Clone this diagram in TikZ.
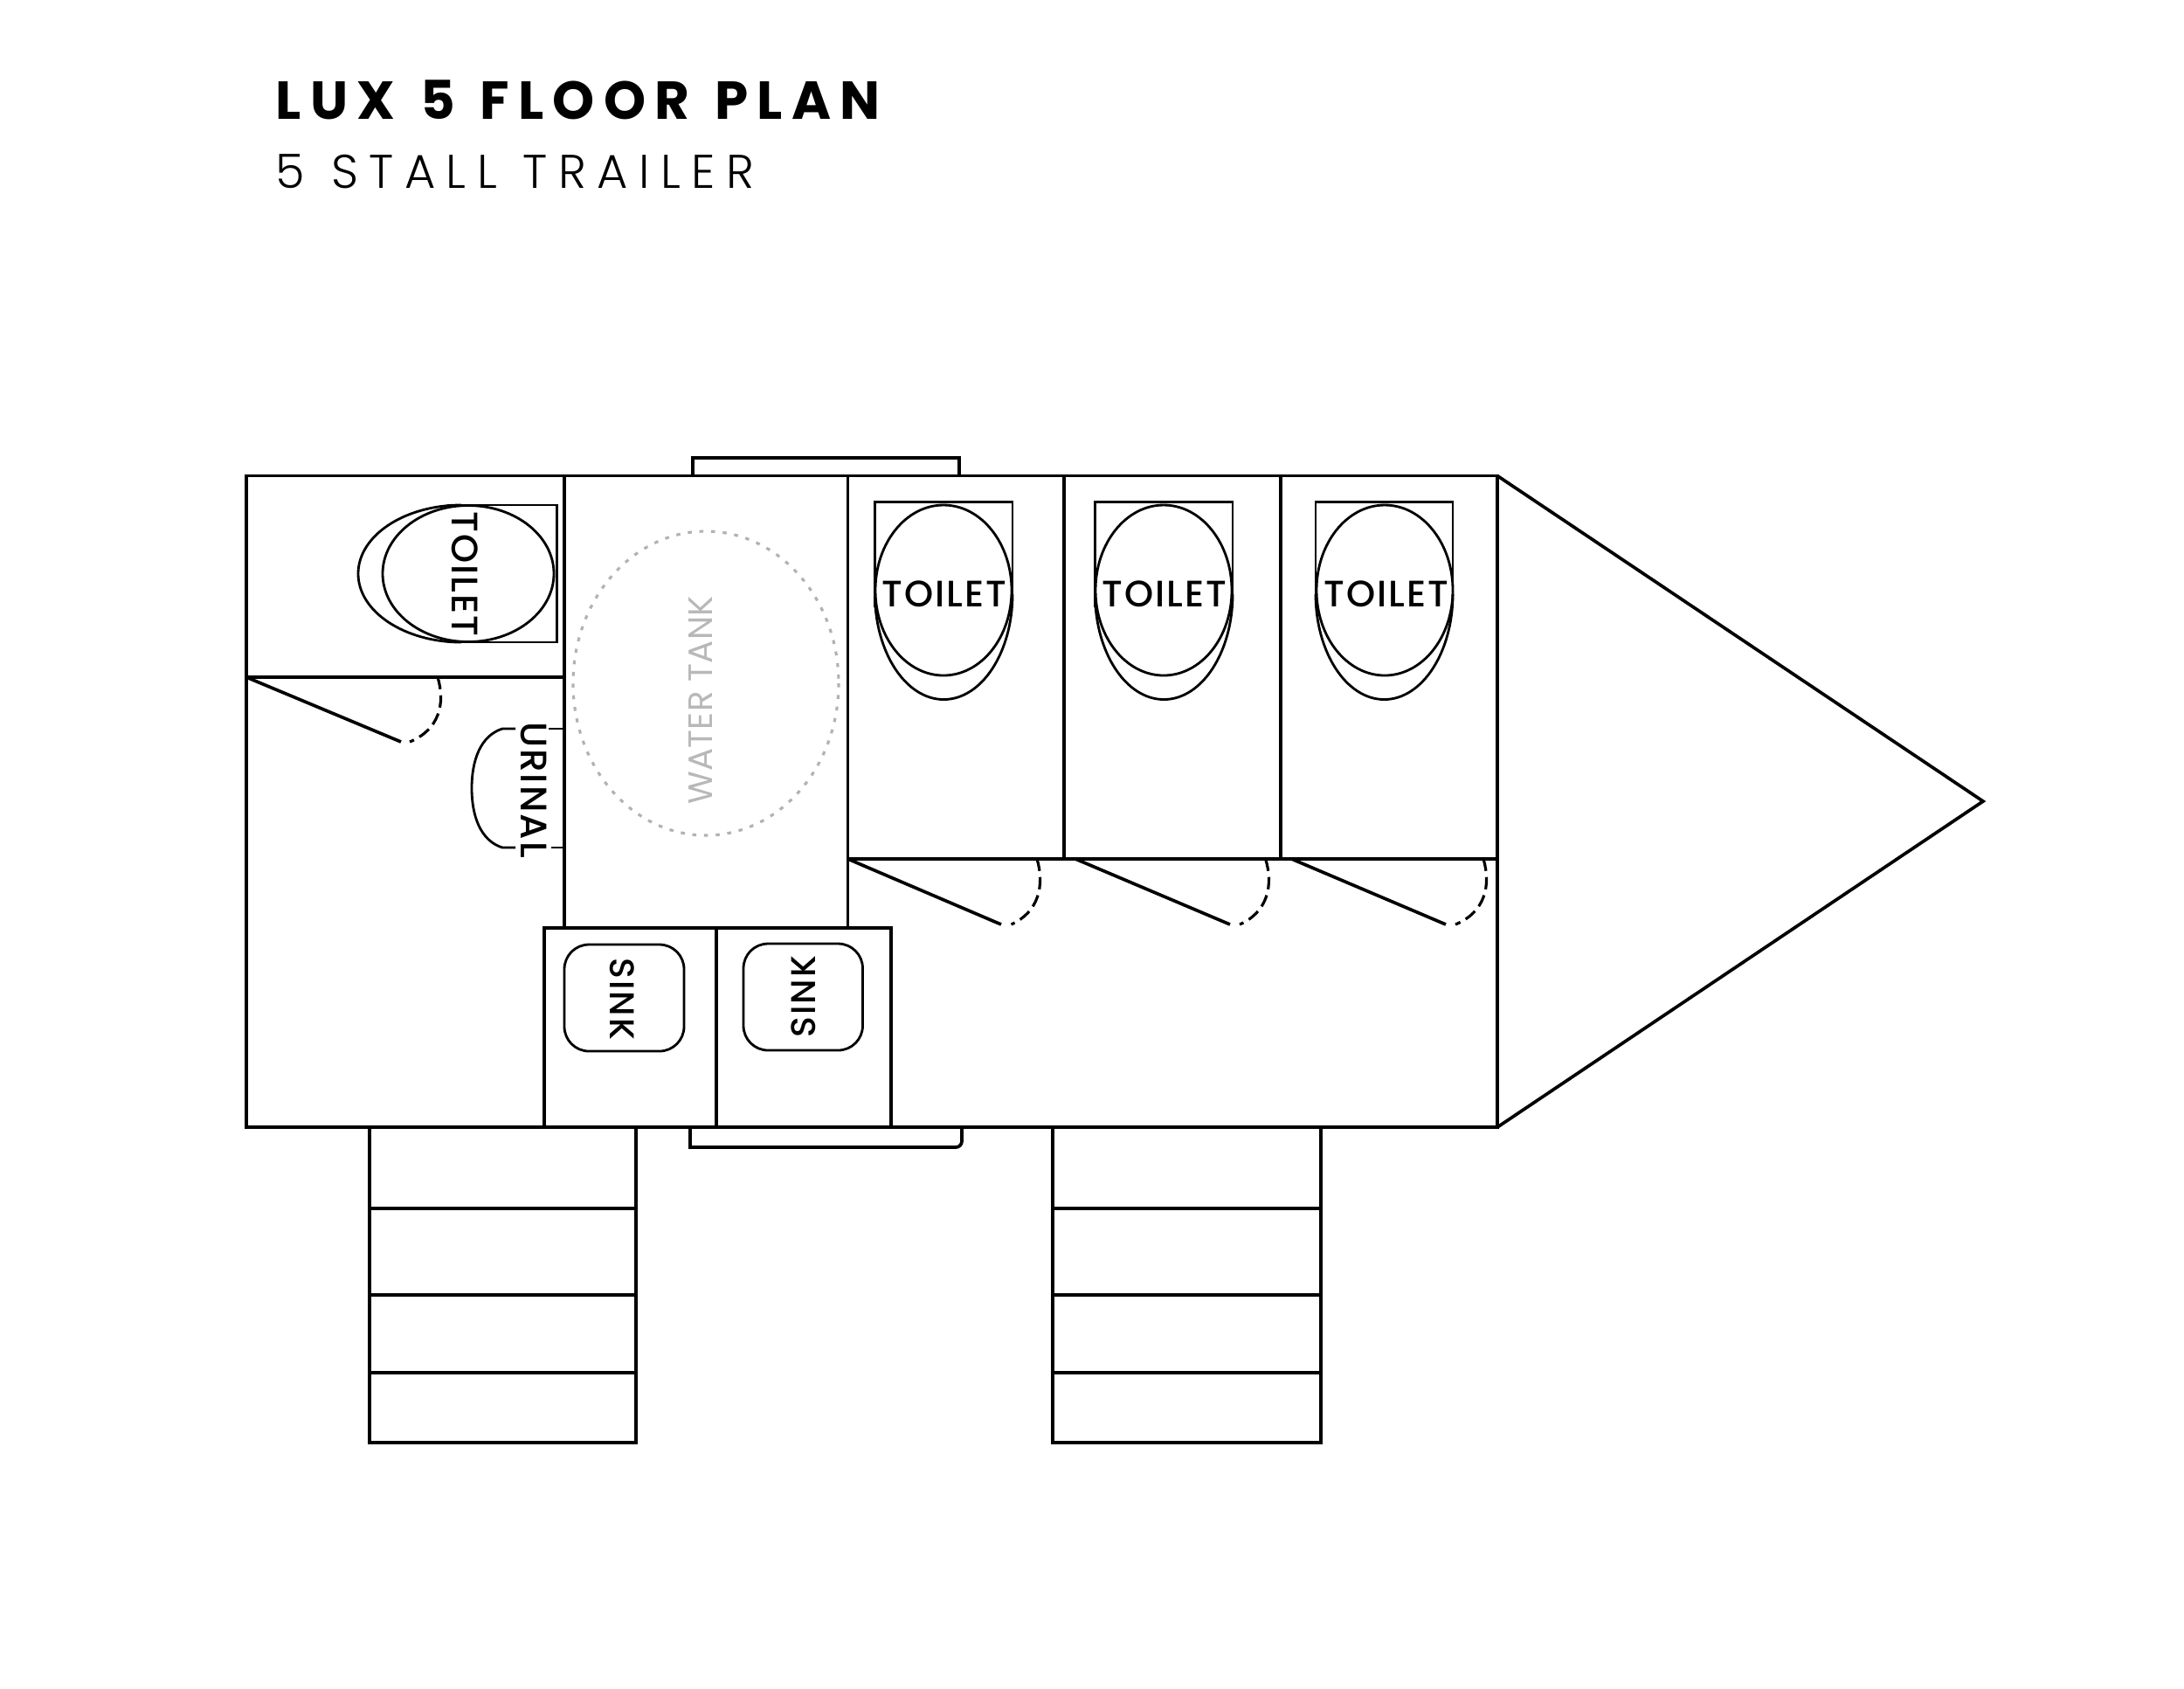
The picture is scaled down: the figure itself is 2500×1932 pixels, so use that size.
\documentclass[tikz,border=0pt]{standalone}
\usepackage{fontspec}
\setmainfont{Poppins}
\newfontfamily\titlefont[LetterSpace=17,WordSpace=1.22]{Poppins}
\newfontfamily\lightfont[LetterSpace=23,WordSpace=1.1]{Poppins Light}
\newfontfamily\labelfont[LetterSpace=5]{Poppins Medium}
\newfontfamily\tankfont[LetterSpace=1]{Poppins}
\tikzset{
    wall/.style={line width=1.05pt},
    fixture/.style={line width=0.8pt},
    doorswing/.style={line width=0.9pt, dash pattern=on 4pt off 2pt},
    fixlabel/.style={font=\labelfont\fontsize{12pt}{14pt}\selectfont, inner sep=0pt},
    sinklabel/.style={font=\labelfont\fontsize{11.2pt}{14pt}\selectfont, inner sep=0pt},
    tanklabel/.style={font=\tankfont\fontsize{11pt}{14pt}\selectfont, inner sep=0pt, text=black!28},
}
\begin{document}
\begin{tikzpicture}[x=0.01cm, y=-0.01cm]
    \useasboundingbox (0,0) rectangle (2500,1932);
    \node[anchor=base west, inner sep=0pt, font=\titlefont\bfseries\fontsize{17.4pt}{20pt}\selectfont] (title) at (315,136) {LUX 5 FLOOR PLAN};
    \node[anchor=base west, inner sep=0pt, font=\lightfont\fontsize{15.4pt}{18pt}\selectfont] (subtitle) at (315,215) {5 STALL TRAILER};
    \draw [wall] (282,544.5) rectangle (1714,1290);
    \draw [wall] (1714,544.5) -- (2270,917) -- (1714,1290);
    \draw [wall] (793,544.5) -- (793,524) -- (1098,524) -- (1098,544.5);
    \draw [wall] (790,1290) -- (790,1313) -- (1094,1313) to[out=0,in=-90] (1101,1306) -- (1101,1290);
    \draw [wall] (646,544.5) -- (646,1062);
    \draw [wall] (970.5,544.5) -- (970.5,1062);
    \draw [wall] (1218,544.5) -- (1218,983);
    \draw [wall] (1466,544.5) -- (1466,983);
    \draw [wall] (282,775) -- (646,775);
    \draw [wall] (970.5,983) -- (1714,983);
    \draw [wall] (623,1290) -- (623,1062) -- (1020,1062) -- (1020,1290);
    \draw [wall] (820,1062) -- (820,1290);
    \draw [wall] (282,775) -- (459,849);
    \draw [doorswing] (501,775) .. controls (510,805) and (503,835) .. (469,849);
    \draw [wall] (970.5,983) -- (1146,1058);
    \draw [doorswing] (1187,983) .. controls (1196,1013) and (1189,1044) .. (1157.5,1058);
    \draw [wall] (1231,983) -- (1408,1058);
    \draw [doorswing] (1448.6,983) .. controls (1458,1013) and (1451,1044) .. (1419,1058);
    \draw [wall] (1478.4,983) -- (1655,1058);
    \draw [doorswing] (1698,983) .. controls (1707,1013) and (1700,1044) .. (1666,1058);
    \draw [fixture] (512,578) -- (637.5,578) -- (637.5,735) -- (512,735);
    \draw [fixture] (536,656.5) ellipse (98 and 78);
    \draw [fixture] (528,578) arc (270:90:118 and 78.5);
    \node[fixlabel, rotate=-90] (toiletA) at (532,657) {TOILET};
    \draw [fixture] (1001.5,695) -- (1001.5,574.5) -- (1159,574.5) -- (1159,695);
    \draw [fixture] (1080,675.5) ellipse (78 and 97.5);
    \draw [fixture] (1001.5,680) arc (180:0:78.75 and 120.5);
    \node[fixlabel] (toiletB) at (1081,680) {TOILET};
    \draw [fixture] (1253.5,695) -- (1253.5,574.5) -- (1411,574.5) -- (1411,695);
    \draw [fixture] (1332,675.5) ellipse (78 and 97.5);
    \draw [fixture] (1253.5,680) arc (180:0:78.75 and 120.5);
    \node[fixlabel] (toiletC) at (1333,680) {TOILET};
    \draw [fixture] (1506,695) -- (1506,574.5) -- (1663,574.5) -- (1663,695);
    \draw [fixture] (1585,675.5) ellipse (78 and 97.5);
    \draw [fixture] (1506,680) arc (180:0:78.5 and 120.5);
    \node[fixlabel] (toiletD) at (1587,680) {TOILET};
    \draw [fixture] (646,834) -- (628,834);
    \draw [fixture] (646,970) -- (631,970);
    \draw [fixture] (590,834) -- (575,834) .. controls (550,842) and (540,870) .. (540,902) .. controls (540,934) and (550,962) .. (575,970) -- (590,970);
    \node[fixlabel, rotate=-90] (urinal) at (611,904) {URINAL};
    \draw [line width=0.9pt, dash pattern=on 1.3pt off 2.5pt, black!30] (808,782) ellipse (152 and 174);
    \node[tanklabel, rotate=90] (watertank) at (802,801.5) {WATER TANK};
    \draw [fixture, rounded corners=8pt] (646,1081) rectangle (783,1203);
    \node[sinklabel, rotate=-90] (sinkA) at (712.5,1143.5) {SINK};
    \draw [fixture, rounded corners=8pt] (851,1080) rectangle (987.5,1202);
    \node[sinklabel, rotate=90] (sinkB) at (920,1140.5) {SINK};
    \draw [wall] (423,1290) rectangle (728,1651);
    \draw [wall] (423,1383) -- (728,1383);
    \draw [wall] (423,1482) -- (728,1482);
    \draw [wall] (423,1571) -- (728,1571);
    \draw [wall] (1205,1290) rectangle (1512,1651);
    \draw [wall] (1205,1383) -- (1512,1383);
    \draw [wall] (1205,1482) -- (1512,1482);
    \draw [wall] (1205,1571) -- (1512,1571);
\end{tikzpicture}
\end{document}
